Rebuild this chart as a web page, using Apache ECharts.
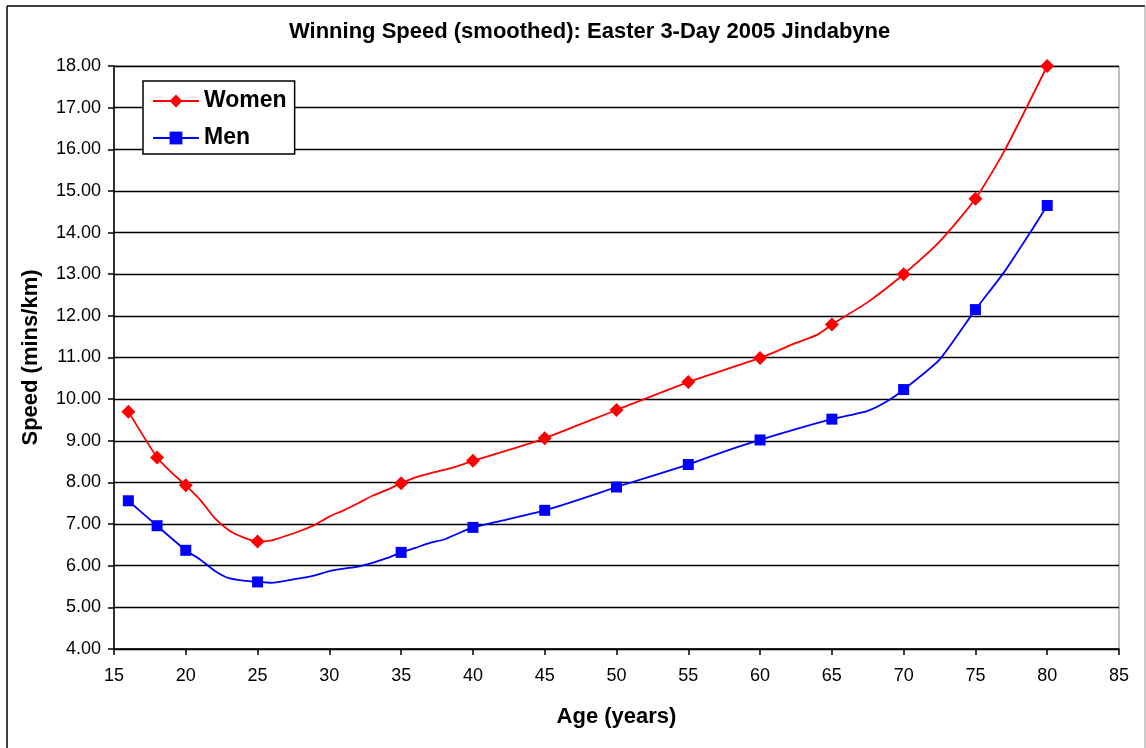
<!DOCTYPE html>
<html>
<head>
<meta charset="utf-8">
<title>Winning Speed</title>
<script src="https://cdn.jsdelivr.net/npm/echarts@6/dist/echarts.min.js"></script>
<style>
  html, body { margin: 0; padding: 0; background: #fff; }
  #chart { width: 1146px; height: 748px; }
</style>
</head>
<body>
<div id="chart"></div>
<script>
// ages that carry a marker
var markerAges = [16, 18, 20, 25, 35, 40, 45, 50, 55, 60, 65, 70, 75, 80];

// smoothed curves
var womenAges = [16, 18, 19, 20, 21, 22, 23, 24, 25, 26, 27, 28, 29, 30, 31, 32, 33, 34, 35, 36, 37, 38, 39, 40, 42.5, 45, 50, 55, 60, 62.5, 64, 65, 67.5, 70, 72.5, 75, 77, 80];
var womenSpeed = [9.70, 8.60, 8.24, 7.93, 7.58, 7.15, 6.85, 6.68, 6.58, 6.61, 6.72, 6.84, 6.98, 7.18, 7.33, 7.50, 7.68, 7.82, 7.98, 8.12, 8.22, 8.30, 8.40, 8.52, 8.78, 9.06, 9.74, 10.41, 10.99, 11.35, 11.55, 11.79, 12.33, 13.00, 13.78, 14.81, 15.95, 18.00];

var menAges = [16, 18, 20, 21, 22, 23, 24, 25, 26, 27, 28, 29, 30, 31, 32, 33, 34, 35, 36, 37, 38, 39, 40, 42.5, 45, 47.5, 50, 55, 57.5, 60, 62.5, 65, 67.5, 69, 70, 72.5, 75, 77, 79, 80];
var menSpeed = [7.56, 6.96, 6.37, 6.15, 5.88, 5.70, 5.64, 5.61, 5.59, 5.64, 5.70, 5.77, 5.87, 5.93, 5.98, 6.07, 6.18, 6.32, 6.43, 6.55, 6.63, 6.78, 6.92, 7.12, 7.33, 7.60, 7.89, 8.43, 8.74, 9.02, 9.28, 9.52, 9.72, 9.98, 10.23, 10.95, 12.15, 13.05, 14.10, 14.65];

function build(ages, vals, sym) {
  return ages.map(function (a, i) {
    return { value: [a, vals[i]], symbol: markerAges.indexOf(a) >= 0 ? sym : 'none' };
  });
}

var chart = echarts.init(document.getElementById('chart'));
var font = 'Arial, "Liberation Sans", sans-serif';

var option = {
  animation: false,
  textStyle: { fontFamily: font },
  title: {
    text: 'Winning Speed (smoothed): Easter 3-Day 2005 Jindabyne',
    left: 284,
    top: 16,
    textStyle: { fontSize: 22, fontWeight: 'bold', color: '#000', fontFamily: font }
  },
  legend: {
    orient: 'vertical',
    left: 143,
    top: 81,
    padding: [7, 8, 3, 9],
    itemWidth: 46,
    itemHeight: 16,
    itemGap: 11,
    backgroundColor: '#fff',
    borderColor: '#000',
    borderWidth: 1.5,
    textStyle: { fontSize: 23, fontWeight: 'bold', color: '#000', lineHeight: 26, fontFamily: font },
    data: ['Women', 'Men']
  },
  grid: {
    left: 114,
    top: 66,
    right: 27,
    bottom: 99,
    show: true,
    borderColor: '#808080',
    borderWidth: 1
  },
  xAxis: {
    type: 'value',
    min: 15,
    max: 85,
    interval: 5,
    name: 'Age (years)',
    nameLocation: 'middle',
    nameGap: 57,
    nameTextStyle: { fontSize: 22, fontWeight: 'bold', color: '#000' },
    axisLine: { lineStyle: { color: '#000', width: 1.5 } },
    axisTick: { show: true, length: 6, lineStyle: { color: '#000', width: 1.5 } },
    axisLabel: { fontSize: 18, color: '#000', margin: 18 },
    splitLine: { show: false }
  },
  yAxis: {
    type: 'value',
    min: 4,
    max: 18,
    interval: 1,
    name: 'Speed (mins/km)',
    nameLocation: 'middle',
    nameGap: 72,
    nameRotate: 90,
    nameTextStyle: { fontSize: 22, fontWeight: 'bold', color: '#000' },
    axisLine: { lineStyle: { color: '#000', width: 1.5 } },
    axisTick: { show: true, length: 6, lineStyle: { color: '#000', width: 1.5 } },
    axisLabel: {
      fontSize: 18, color: '#000', margin: 13,
      formatter: function (v) { return v.toFixed(2); }
    },
    splitLine: { show: true, lineStyle: { color: '#000', width: 1.3 } }
  },
  series: [
    {
      name: 'Women',
      type: 'line',
      symbol: 'diamond',
      symbolSize: 14,
      smooth: 0.2,
      color: '#ff0000',
      lineStyle: { width: 1.8, color: '#ff0000' },
      itemStyle: { color: '#ff0000' },
      data: build(womenAges, womenSpeed, 'diamond'),
      z: 3
    },
    {
      name: 'Men',
      type: 'line',
      symbol: 'rect',
      symbolSize: 11,
      smooth: 0.2,
      color: '#0000ff',
      lineStyle: { width: 1.8, color: '#0000ff' },
      itemStyle: { color: '#0000ff' },
      data: build(menAges, menSpeed, 'rect'),
      z: 3
    }
  ],
  graphic: [
    { type: 'line', shape: { x1: 7, y1: 6, x2: 1145, y2: 6 }, style: { stroke: '#000', lineWidth: 1.5 } },
    { type: 'line', shape: { x1: 7, y1: 6, x2: 7, y2: 748 }, style: { stroke: '#000', lineWidth: 1.5 } },
    { type: 'line', shape: { x1: 1145, y1: 6, x2: 1145, y2: 748 }, style: { stroke: '#999', lineWidth: 1 } }
  ]
};

chart.setOption(option);
</script>
</body>
</html>
